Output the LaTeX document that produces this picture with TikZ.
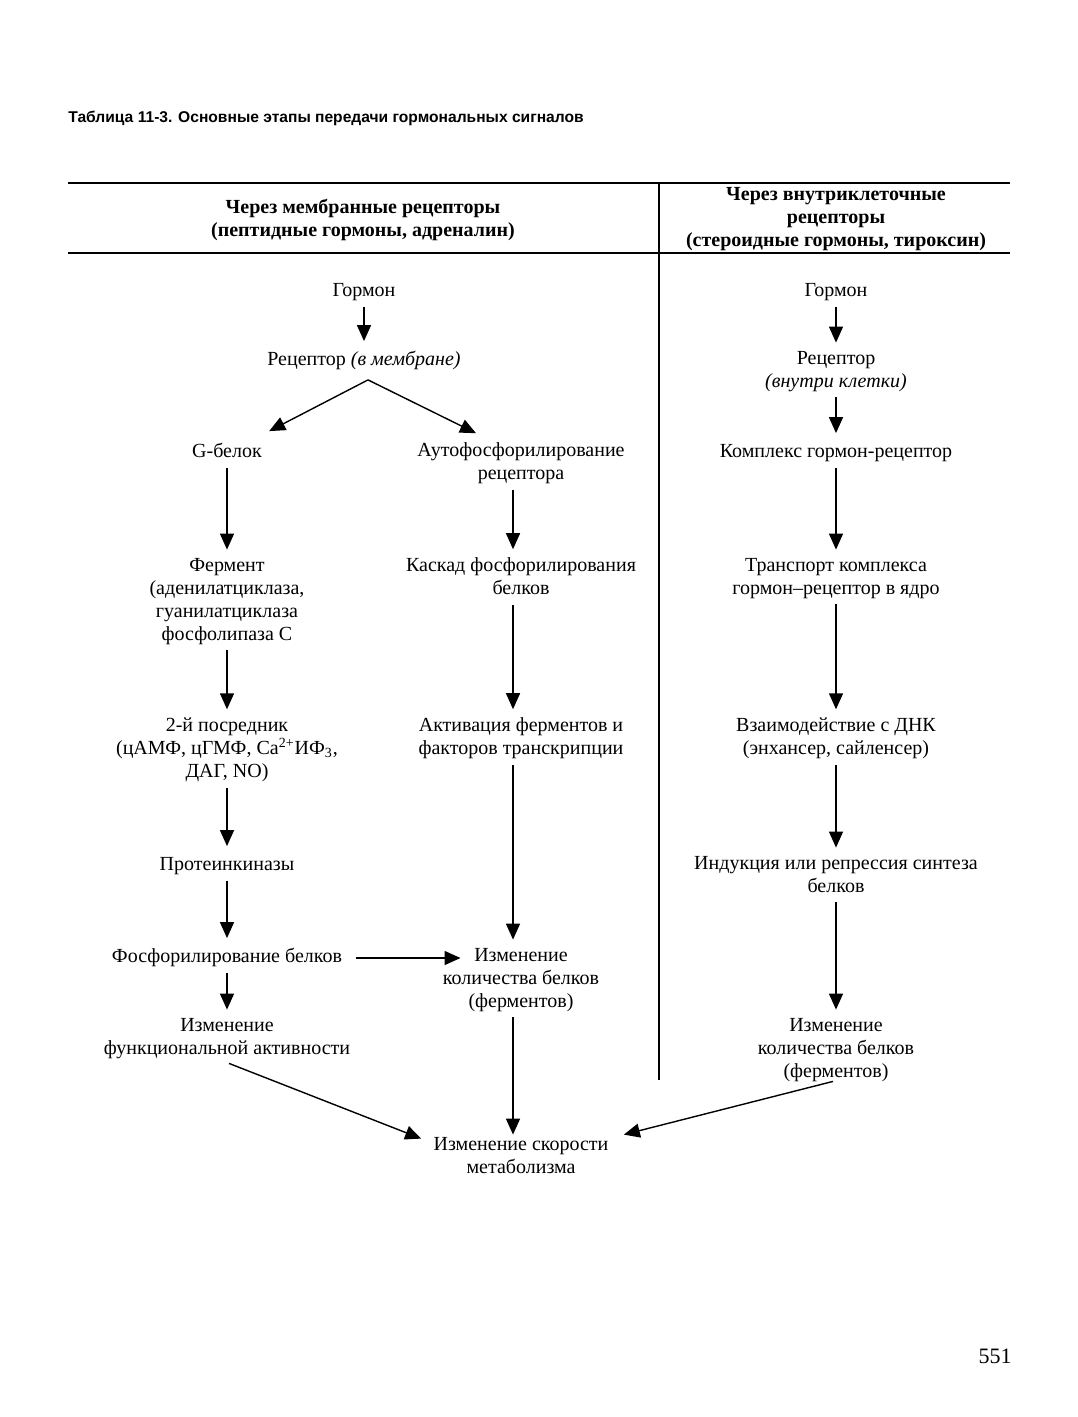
\documentclass[tikz,border=0pt]{standalone}
\usepackage{fontspec}
\setmainfont{Liberation Serif}
\newfontfamily\titlefont{Liberation Sans}
\usetikzlibrary{arrows.meta}

\tikzset{
  stage/.style={font=\fontsize{10}{11.5}\selectfont, align=center, inner sep=0pt,
    execute at begin node=\strut, execute at end node=\strut},
  head/.style={font=\fontsize{10}{11.5}\selectfont\bfseries, align=center, inner sep=0pt},
  flow/.style={-{Triangle[length=8pt,width=7pt]}, line width=0.7pt, shorten <=1.5pt, shorten >=4pt},
  rule/.style={line width=0.9pt},
}

\begin{document}
\begin{tikzpicture}[x=0.5pt,y=-0.5pt]
  \useasboundingbox (0,0) rectangle (1077,1417);

  \node[anchor=west, inner sep=0pt, font=\titlefont\bfseries\fontsize{7.8}{9}\selectfont] (title) at (68,118)
    {Таблица 11-3. Основные этапы передачи гормональных сигналов};

  % table rules
  \draw[rule] (68,183) -- (1010,183);
  \draw[rule] (68,253) -- (1010,253);
  \draw[line width=0.6pt] (659,183) -- (659,1080);

  \node[head] (headL) at (363,220) {Через мембранные рецепторы\\(пептидные гормоны, адреналин)};
  \node[head] (headR) at (836,219) {Через внутриклеточные\\рецепторы\\(стероидные гормоны, тироксин)};

  % membrane receptors
  \node[stage] (hormL)  at (364,292)    {Гормон};
  \node[stage] (recL)   at (364,361)    {Рецептор \textit{(в мембране)}};
  \node[stage] (gprot)  at (227,453)    {G-белок};
  \node[stage] (autoph) at (521,464.5)  {Аутофосфорилирование\\рецептора};
  \node[stage] (enz)    at (227,602.5)  {Фермент\\(аденилатциклаза,\\гуанилатциклаза\\фосфолипаза С};
  \node[stage] (casc)   at (521,579.5)  {Каскад фосфорилирования\\белков};
  \node[stage] (second) at (227,751)    {2-й посредник\\(цАМФ, цГМФ, Ca\textsuperscript{2+}ИФ\textsubscript{3},\\ДАГ, NO)};
  \node[stage] (activ)  at (521,739.5)  {Активация ферментов и\\факторов транскрипции};
  \node[stage] (pkin)   at (227,866)    {Протеинкиназы};
  \node[stage] (phos)   at (227,958)    {Фосфорилирование белков};
  \node[stage] (qtyL)   at (521,981)    {Изменение\\количества белков\\(ферментов)};
  \node[stage] (func)   at (227,1039.5) {Изменение\\функциональной активности};
  \node[stage] (metab)  at (521,1158.5) {Изменение скорости\\метаболизма};

  % intracellular receptors
  \node[stage] (hormR)  at (836,292)    {Гормон};
  \node[stage] (recR)   at (836,372.5)  {Рецептор\\\textit{(внутри клетки)}};
  \node[stage] (cplx)   at (836,453)    {Комплекс гормон-рецептор};
  \node[stage] (transp) at (836,579.5)  {Транспорт комплекса\\гормон–рецептор в ядро};
  \node[stage] (dna)    at (836,739.5)  {Взаимодействие с ДНК\\(энхансер, сайленсер)};
  \node[stage] (induct) at (836,877.5)  {Индукция или репрессия синтеза\\белков};
  \node[stage] (qtyR)   at (836,1051)   {Изменение\\количества белков\\(ферментов)};

  \node[font=\fontsize{11}{13}\selectfont, inner sep=0pt] (page) at (995,1356) {551};

  % arrows
  \foreach \a/\b in {hormL/recL, gprot/enz, enz/second, second/pkin, pkin/phos, phos/func,
                     hormR/recR, recR/cplx, cplx/transp, transp/dna, dna/induct, induct/qtyR}
    \draw[flow] (\a.south) -- (\a.south |- \b.north);
  \foreach \a/\b in {autoph/casc, casc/activ, activ/qtyL}
    \draw[flow] ([xshift=-4pt]\a.south) -- ([xshift=-4pt]\a.south |- \b.north);
  \draw[flow, shorten >=1pt] ([xshift=-4pt]qtyL.south) -- ([xshift=-4pt]qtyL.south |- metab.north);

  \draw[flow, shorten <=0pt, shorten >=0pt] ([xshift=2pt,yshift=-3.5pt]recL.south) -- ([xshift=3.5pt,yshift=5pt]gprot.north east);
  \draw[flow, shorten <=0pt, shorten >=0pt] ([xshift=2pt,yshift=-3.5pt]recL.south) -- ([xshift=29.5pt,yshift=4.5pt]autoph.north west);
  \draw[flow, shorten <=7pt, shorten >=0pt] (phos.east) -- ([xshift=9pt]phos.east -| qtyL.west);
  \draw[flow, shorten <=0pt, shorten >=0pt] ([xshift=1pt,yshift=-1pt]func.south) -- ([xshift=-6pt,yshift=-1pt]metab.north west);
  \draw[flow, shorten <=0pt, shorten >=0pt] ([xshift=-1.5pt,yshift=1.5pt]qtyR.south) -- ([xshift=7.5pt,yshift=1pt]metab.north east);
\end{tikzpicture}
\end{document}
